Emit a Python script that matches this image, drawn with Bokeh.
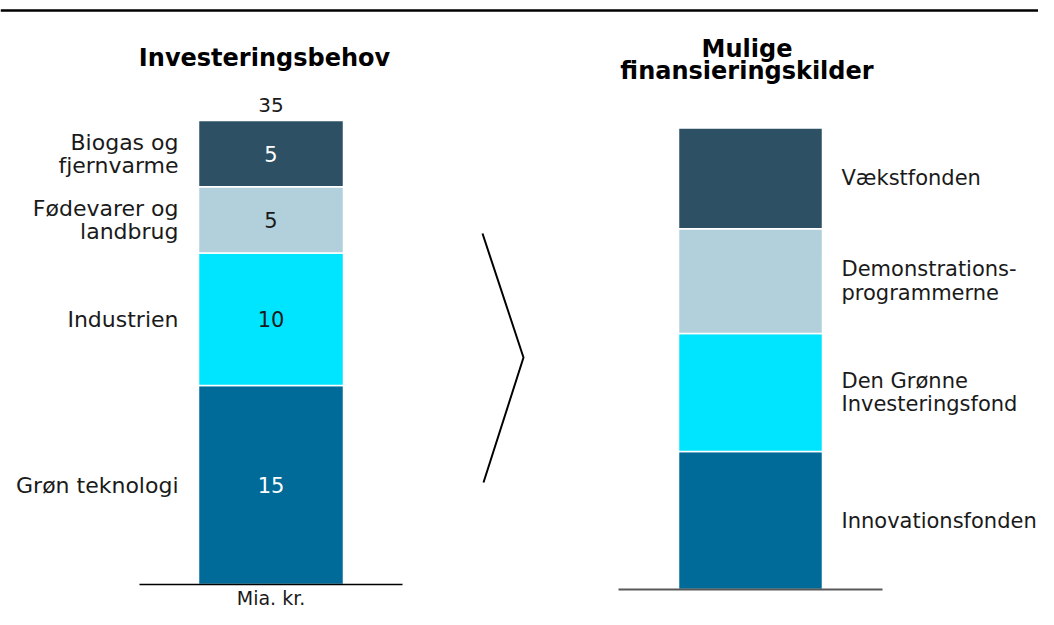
from bokeh.plotting import figure
from bokeh.models import Range1d, ColumnDataSource
from bokeh.embed import file_html
from bokeh.resources import INLINE
from bokeh.core.properties import value

# ---------------- data ----------------
left_title = "Investeringsbehov"
left_categories = ["Grøn teknologi", "Industrien", "Fødevarer og\nlandbrug", "Biogas og\nfjernvarme"]
left_values = [15, 10, 5, 5]
left_unit = "Mia. kr."

right_title = "Mulige\nfinansieringskilder"
right_categories = ["Innovationsfonden", "Den Grønne\nInvesteringsfond",
                    "Demonstrations-\nprogrammerne", "Vækstfonden"]
right_values = [10.4, 8.9, 7.9, 7.6]

segment_colors = ["#006B99", "#00E5FF", "#B1D0DB", "#2D5064"]
value_text_colors = ["white", "#1a1a1a", "#1a1a1a", "white"]

# ---------------- layout ----------------
W, H = 1038, 609
PX = 13.26            # pixels per unit
LEFT_BASE = 25        # px from bottom to left baseline
RIGHT_BASE = 20       # px from bottom to right baseline
TXT = "#1a1a1a"
FONT = value("DejaVu Sans")


def ly(py):
    """pixel-from-top -> left data coordinate"""
    return (H - LEFT_BASE - py) / PX


def stack(vals):
    bottoms, tops, acc = [], [], 0
    for v in vals:
        bottoms.append(acc)
        acc += v
        tops.append(acc)
    return bottoms, tops, [(b + t) / 2 for b, t in zip(bottoms, tops)]


p = figure(width=W, height=H, output_backend="svg", toolbar_location=None,
           x_range=Range1d(0, W),
           y_range=Range1d(-LEFT_BASE / PX, (H - LEFT_BASE) / PX),
           min_border=0, background_fill_color="white",
           border_fill_color="white", outline_line_color=None)
p.extra_y_ranges = {"right": Range1d(-RIGHT_BASE / PX, (H - RIGHT_BASE) / PX)}
p.axis.visible = False
p.xgrid.visible = False
p.ygrid.visible = False

# top rule
p.line(x=[0, W], y=[ly(10), ly(10)], line_color="black", line_width=2.5)

# ---- left stacked bar ----
lb, lt, lc = stack(left_values)
LX, LW = 270.5, 145
lsrc = ColumnDataSource(dict(bottom=lb, top=lt, mid=lc, val=[str(v) for v in left_values],
                             cat=left_categories, color=segment_colors,
                             tcolor=value_text_colors))
p.vbar(x=LX, width=LW, bottom="bottom", top="top", source=lsrc,
       fill_color="color", line_color="white", line_width=1.5)
p.text(x=LX, y="mid", text="val", source=lsrc, text_color="tcolor",
       text_font=FONT, text_font_size="21px", text_align="center", text_baseline="middle")
p.text(x=178, y="mid", text="cat", source=lsrc, text_color=TXT,
       text_font=FONT, text_font_size="22px", text_align="right", text_baseline="middle",
       text_line_height=0.92)
p.text(x=[LX], y=[sum(left_values)], text=[str(sum(left_values))], y_offset=-8,
       text_color=TXT, text_font=FONT, text_font_size="20px",
       text_align="center", text_baseline="bottom")
p.segment(x0=139, x1=402, y0=0, y1=0, line_color="black", line_width=1.5)
p.text(x=[LX], y=[0], text=[left_unit], y_offset=2, text_color=TXT,
       text_font=FONT, text_font_size="19px", text_align="center", text_baseline="top")
p.text(x=[264], y=[ly(57)], text=[left_title], text_color="black",
       text_font=FONT, text_font_style="bold", text_font_size="24px",
       text_align="center", text_baseline="middle")

# ---- chevron ----
p.line(x=[482, 523, 483], y=[ly(233), ly(357), ly(482)], line_color="black", line_width=2)

# ---- right stacked bar ----
rb, rt, rc = stack(right_values)
RX, RW = 750, 144
rsrc = ColumnDataSource(dict(bottom=rb, top=rt, mid=rc, cat=right_categories,
                             color=segment_colors))
p.vbar(x=RX, width=RW, bottom="bottom", top="top", source=rsrc, y_range_name="right",
       fill_color="color", line_color="white", line_width=1.5)
p.text(x=841, y="mid", text="cat", source=rsrc, y_range_name="right", text_color=TXT,
       text_font=FONT, text_font_size="21px", text_align="left", text_baseline="middle",
       text_line_height=0.98)
p.segment(x0=618, x1=882, y0=0, y1=0, y_range_name="right",
          line_color="#595959", line_width=2)
p.text(x=[746.5], y=[ly(59.5)], text=[right_title], text_color="black",
       text_font=FONT, text_font_style="bold", text_font_size="24px",
       text_align="center", text_baseline="middle", text_line_height=0.76)

open("out.html", "w").write(file_html(p, INLINE))
